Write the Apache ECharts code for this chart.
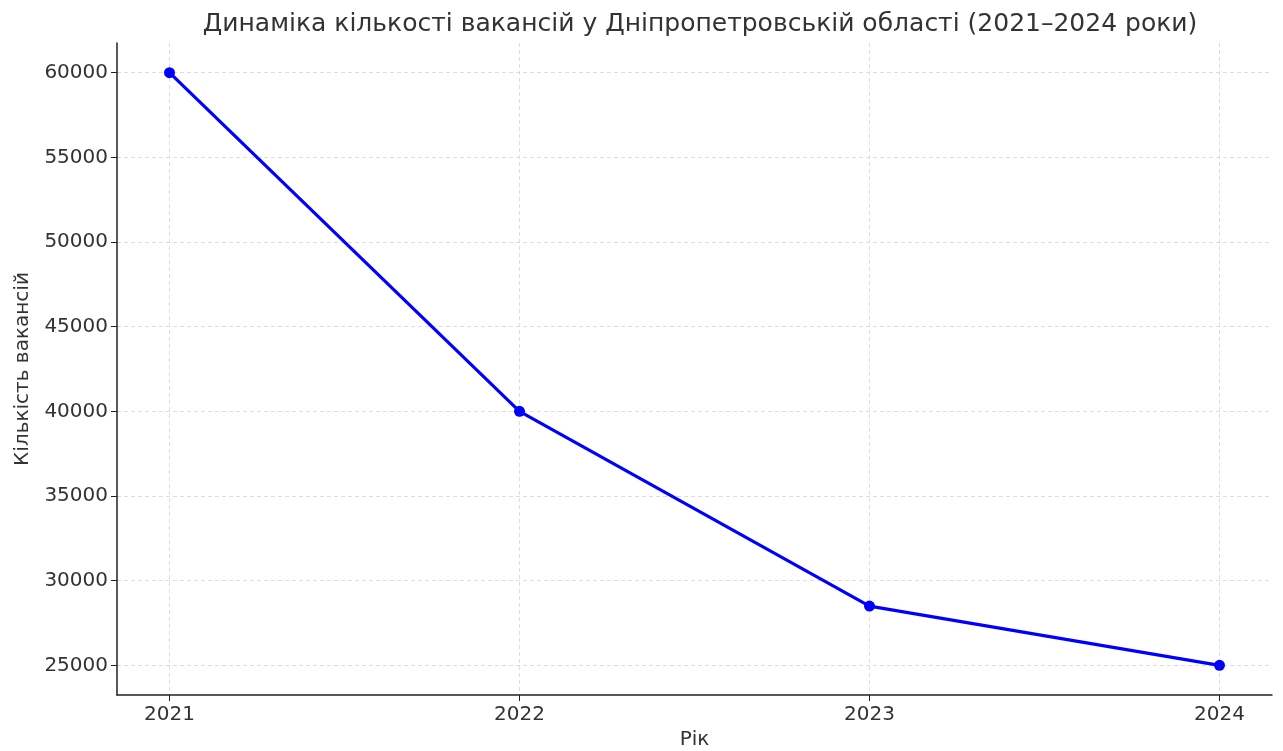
<!DOCTYPE html>
<html><head><meta charset="utf-8">
<script src="https://cdn.jsdelivr.net/npm/echarts@6/dist/echarts.min.js"></script>
<style>html,body{margin:0;padding:0;background:#fff}#c{width:1283px;height:751px}</style>
</head><body><div id="c"></div>
<script>
const years = [2021, 2022, 2023, 2024];
const vacancies = [60000, 40000, 28500, 25000];
const yTicks = [25000, 30000, 35000, 40000, 45000, 50000, 55000, 60000];
const titleText = 'Динаміка кількості вакансій у Дніпропетровській області (2021–2024 роки)';
const xName = 'Рік';
const yName = 'Кількість вакансій';

const font = 'DejaVu Sans';
const chart = echarts.init(document.getElementById('c'), null, {renderer: 'canvas'});
const split = {show: true, lineStyle: {color: '#d4d4d4', type: [4, 3], width: 0.8}};
chart.setOption({
  animation: false,
  backgroundColor: '#fff',
  title: {text: titleText, left: 695, top: 7, textAlign: 'center',
    textStyle: {fontFamily: font, fontSize: 25, fontWeight: 'normal', color: '#333'}},
  grid: {left: 117, right: 11, top: 43, bottom: 56, containLabel: false, outerBoundsMode: 'none'},
  xAxis: {
    type: 'value', min: 2020.85, max: 2024.15,
    name: xName, nameLocation: 'middle', nameGap: 35,
    nameTextStyle: {fontFamily: font, fontSize: 20, color: '#333'},
    axisLine: {show: true, lineStyle: {color: '#222', width: 1.5}},
    axisTick: {show: true, length: 6, inside: false, customValues: years, lineStyle: {color: '#222'}},
    axisLabel: {customValues: years, fontFamily: font, fontSize: 20, color: '#333', margin: 10,
      formatter: v => String(Math.round(v))},
    splitLine: split
  },
  yAxis: {
    type: 'value', min: 23250, max: 61750,
    name: yName, nameLocation: 'middle', nameGap: 84, nameRotate: 90,
    nameTextStyle: {fontFamily: font, fontSize: 20, color: '#333'},
    axisLine: {show: true, lineStyle: {color: '#222', width: 1.5}},
    axisTick: {show: true, length: 6, inside: false, customValues: yTicks, lineStyle: {color: '#222'}},
    axisLabel: {customValues: yTicks, fontFamily: font, fontSize: 20, color: '#333', margin: 9,
      formatter: v => String(Math.round(v))},
    splitLine: split
  },
  series: [{
    type: 'line',
    data: years.map((y, i) => [y, vacancies[i]]),
    symbol: 'circle', symbolSize: 11,
    lineStyle: {color: '#0000ff', width: 3.2},
    itemStyle: {color: '#0000ff'}
  }]
});
</script></body></html>
